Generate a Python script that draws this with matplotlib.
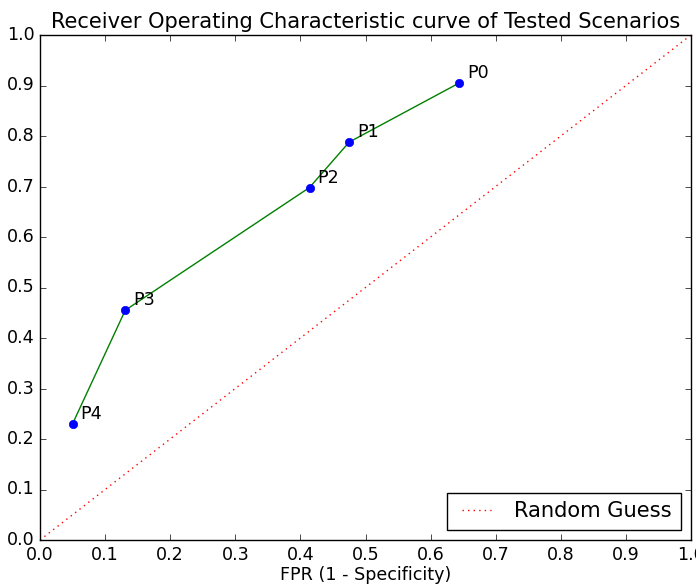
import matplotlib
matplotlib.use("Agg")
import matplotlib.pyplot as plt

plt.style.use("classic")
plt.rcParams["font.size"] = 12.6

# Operating points of the tested scenarios
labels = ["P0", "P1", "P2", "P3", "P4"]
fpr = [0.644, 0.475, 0.414, 0.131, 0.050]
tpr = [0.905, 0.788, 0.698, 0.455, 0.230]

# Chance diagonal
guess = [0.0, 1.0]

fig = plt.figure(figsize=(6.96, 5.85), dpi=100, facecolor="white")
ax = fig.add_axes([40 / 696, 45 / 585, 651 / 696, 505 / 585])

ax.plot(fpr, tpr, "g-", linewidth=1)
ax.plot(fpr, tpr, "bo", markersize=6, markeredgecolor="b")
ax.plot(guess, guess, "r:", linewidth=1, label="Random Guess")

for lab, x, y in zip(labels, fpr, tpr):
    ax.annotate(lab, xy=(x, y), xytext=(5.5, 3.5), textcoords="offset points",
                fontsize=12.6)

ax.set_xlim(0, 1)
ax.set_ylim(0, 1)
ax.set_xticks([i / 10 for i in range(11)])
ax.set_yticks([i / 10 for i in range(11)])
ax.set_xlabel("FPR (1 - Specificity)", labelpad=1.5)
ax.set_title("Receiver Operating Characteristic curve of Tested Scenarios")
ax.legend(loc="lower right")

fig.savefig("out.png", dpi=100, facecolor="white")
